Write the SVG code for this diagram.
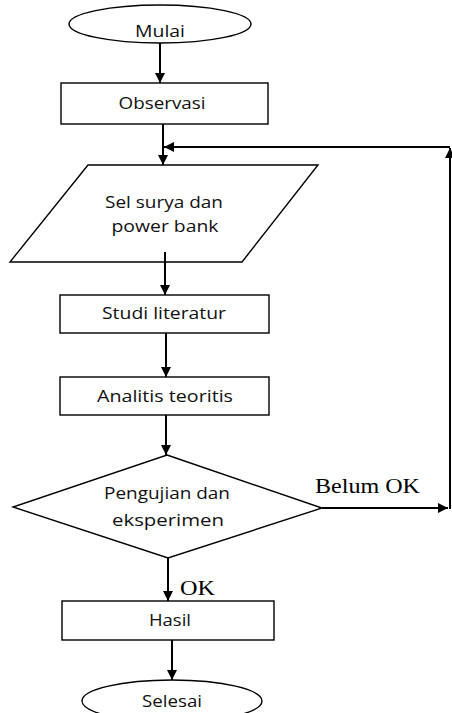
<svg xmlns="http://www.w3.org/2000/svg" width="452" height="713" viewBox="0 0 452 713">
<defs>
<style>
.shape{fill:#fff;stroke:#000;stroke-width:1.4}
.lbl{font-family:"Open Sans","Noto Sans",sans-serif;font-size:17px;fill:#111;text-anchor:middle}
.ser{font-family:"Liberation Serif","Times New Roman",serif;font-size:20px;fill:#000}
.con{fill:none;stroke:#000;stroke-width:2}
</style>
<marker id="ah" markerUnits="userSpaceOnUse" markerWidth="11" markerHeight="11" refX="10" refY="5" orient="auto">
<path d="M0,0 L10,5 L0,10 z" fill="#000"/>
</marker>
</defs>
<rect width="452" height="713" fill="#fff"/>
<g id="mulai">
<ellipse class="shape" cx="160" cy="24" rx="91" ry="19"/>
<text class="lbl" x="160" y="37" textLength="50" lengthAdjust="spacingAndGlyphs">Mulai</text>
</g>
<g id="observasi">
<rect class="shape" x="61" y="83" width="207" height="41"/>
<text class="lbl" x="162" y="109" textLength="87" lengthAdjust="spacingAndGlyphs">Observasi</text>
</g>
<g id="input">
<polygon class="shape" points="88,165 318,165 242,262 10,262"/>
<text class="lbl" x="164" y="208" textLength="118" lengthAdjust="spacingAndGlyphs">Sel surya dan</text>
<text class="lbl" x="165" y="232" textLength="107" lengthAdjust="spacingAndGlyphs">power bank</text>
</g>
<g id="studi">
<rect class="shape" x="60" y="295" width="209" height="38"/>
<text class="lbl" x="164" y="319" textLength="124" lengthAdjust="spacingAndGlyphs">Studi literatur</text>
</g>
<g id="analitis">
<rect class="shape" x="60" y="377" width="209" height="38"/>
<text class="lbl" x="165" y="402" textLength="136" lengthAdjust="spacingAndGlyphs">Analitis teoritis</text>
</g>
<g id="pengujian">
<polygon class="shape" points="167,455 322,508 168,558 13,507"/>
<text class="lbl" x="167" y="499" textLength="126" lengthAdjust="spacingAndGlyphs">Pengujian dan</text>
<text class="lbl" x="168" y="526" textLength="112" lengthAdjust="spacingAndGlyphs">eksperimen</text>
</g>
<g id="hasil">
<rect class="shape" x="62" y="601" width="212" height="39"/>
<text class="lbl" x="170" y="626" textLength="42" lengthAdjust="spacingAndGlyphs">Hasil</text>
</g>
<g id="selesai">
<ellipse class="shape" cx="172" cy="701" rx="90" ry="21"/>
<text class="lbl" x="172" y="707" textLength="60" lengthAdjust="spacingAndGlyphs">Selesai</text>
</g>
<g id="connectors">
<path class="con" d="M160,43 V83" marker-end="url(#ah)"/>
<path class="con" d="M163,124 V165" marker-end="url(#ah)"/>
<path class="con" d="M165,252 V295" marker-end="url(#ah)"/>
<path class="con" d="M166,333 V377" marker-end="url(#ah)"/>
<path class="con" d="M166,415 V455" marker-end="url(#ah)"/>
<path class="con" d="M168,558 V601" marker-end="url(#ah)"/>
<path class="con" d="M172,640 V680" marker-end="url(#ah)"/>
<path class="con" d="M322,508 H448" marker-end="url(#ah)"/>
<path class="con" d="M450,509 V148" marker-end="url(#ah)"/>
<path class="con" d="M450,147 H164" marker-end="url(#ah)"/>
<text class="ser" x="315" y="493" textLength="105" lengthAdjust="spacingAndGlyphs">Belum OK</text>
<text class="ser" x="180" y="595" textLength="35" lengthAdjust="spacingAndGlyphs">OK</text>
</g>
</svg>
